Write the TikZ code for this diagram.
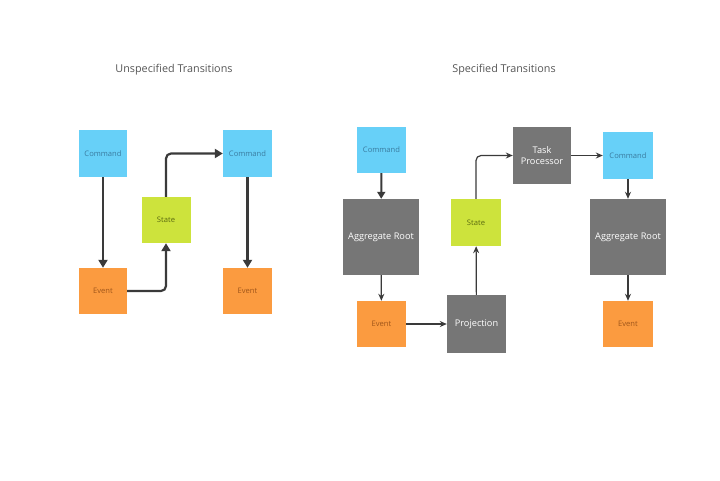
\documentclass[tikz,border=0pt]{standalone}
\usepackage{fontspec}
\setmainfont{Open Sans}
\usetikzlibrary{arrows.meta}
\definecolor{cmdc}{HTML}{67D0F8}
\definecolor{cmdt}{HTML}{3A7CA0}
\definecolor{evc}{HTML}{FB9B40}
\definecolor{evt}{HTML}{A0561A}
\definecolor{stc}{HTML}{CDE33C}
\definecolor{stt}{HTML}{5B6A10}
\definecolor{grc}{HTML}{767676}
\definecolor{linec}{HTML}{3A3A3A}
\definecolor{titc}{HTML}{555555}
\tikzset{
  box/.style={inner sep=0pt, align=center, font=\fontsize{7.6}{9}\selectfont},
  cmd/.style={box, fill=cmdc, text=cmdt},
  ev/.style={box, fill=evc, text=evt},
  st/.style={box, fill=stc, text=stt},
  gr/.style={box, fill=grc, text=white, font=\fontsize{9.2}{11}\selectfont},
  ttl/.style={font=\fontsize{10.8}{13}\selectfont, text=titc},
  thick arr/.style={draw=linec, line width=2.2pt, -{Triangle[length=8pt,width=9pt]}, rounded corners=5pt},
  thin arr/.style={draw=linec, line width=1.2pt, -{Stealth[length=7pt,width=6pt]}, rounded corners=5pt},
  med arr/.style={draw=linec, line width=2pt, -{Triangle[length=7pt,width=8pt]}},
}
\begin{document}
\begin{tikzpicture}[x=1pt,y=-1pt]
\useasboundingbox (0,0) rectangle (720,480);
% left
\node[ttl] (t1) at (174,70) {Unspecified Transitions};
\node[cmd, minimum width=48pt, minimum height=47pt] (c1) at (103,153.5) {Command};
\node[ev, minimum width=48pt, minimum height=46pt] (e1) at (103,291) {Event};
\node[st, minimum width=49pt, minimum height=46pt] (s1) at (166,220) {State};
\node[cmd, minimum width=49pt, minimum height=47pt] (c2) at (247.5,153.5) {Command};
\node[ev, minimum width=49pt, minimum height=46pt] (e2) at (247.5,291) {Event};
\draw[thick arr] (c1) -- (e1);
\draw[thick arr] (e1.east) -| (s1.south);
\draw[thick arr] (s1.north) |- (c2.west);
\draw[thick arr] (c2) -- (e2);
% right
\node[ttl] (t2) at (504,70) {Specified Transitions};
\node[cmd, minimum width=49pt, minimum height=46pt] (c3) at (381.5,150) {Command};
\node[gr, minimum width=76pt, minimum height=76pt] (a1) at (381,237) {Aggregate Root};
\node[ev, minimum width=49pt, minimum height=46pt] (e3) at (381.5,324) {Event};
\node[gr, minimum width=59pt, minimum height=58pt] (p) at (476.5,324) {Projection};
\node[st, minimum width=50pt, minimum height=47pt] (s2) at (476,222.5) {State};
\node[gr, minimum width=58pt, minimum height=57pt] (tp) at (542,155.5) {Task\\Processor};
\node[cmd, minimum width=50pt, minimum height=47pt] (c4) at (628,155.5) {Command};
\node[gr, minimum width=76pt, minimum height=76pt] (a2) at (628,237) {Aggregate Root};
\node[ev, minimum width=50pt, minimum height=46pt] (e4) at (628,324) {Event};
\draw[med arr] (c3) -- (a1);
\draw[thin arr] (a1) -- (e3);
\draw[thin arr] (e3) -- (p);
\draw[thin arr] (p) -- (s2);
\draw[thin arr] (s2.north) |- (tp.west);
\draw[thin arr] (tp) -- (c4);
\draw[thin arr] (c4) -- (a2);
\draw[thin arr] (a2) -- (e4);
\end{tikzpicture}
\end{document}
